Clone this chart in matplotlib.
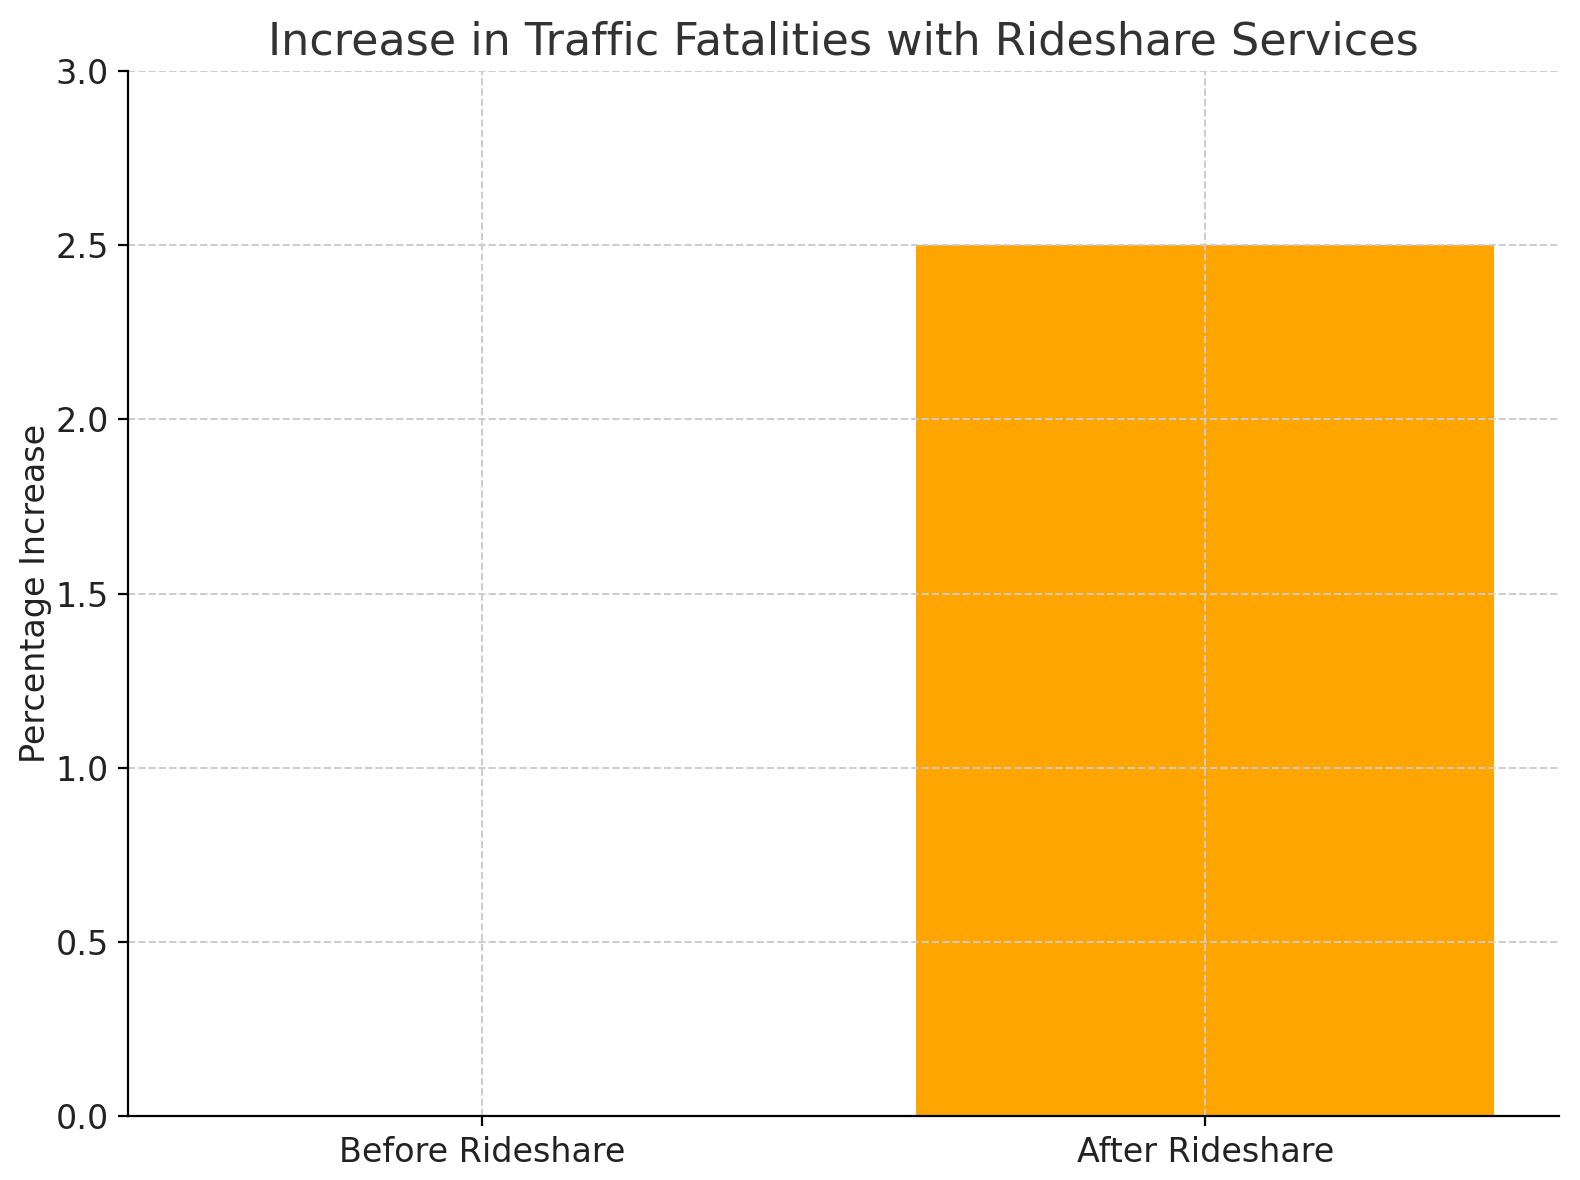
import matplotlib.pyplot as plt

categories = ['Before Rideshare', 'After Rideshare']
increase = [0, 2.5]
colors = ['blue', 'orange']

fig, ax = plt.subplots(figsize=(7.9, 5.9), dpi=200)
ax.bar(categories, increase, color=colors, width=0.8)

ax.set_title('Increase in Traffic Fatalities with Rideshare Services', fontsize=16, color='#333333')
ax.set_ylabel('Percentage Increase', fontsize=12, labelpad=1, color='#222222')
ax.set_ylim(0, 3)
ax.tick_params(labelsize=12, labelcolor='#222222')
ax.grid(True, linestyle='--', color='#cccccc', linewidth=0.7)
ax.set_axisbelow(False)
ax.spines['top'].set_visible(False)
ax.spines['right'].set_visible(False)
for s in ax.spines.values():
    s.set_zorder(5)

fig.subplots_adjust(left=0.081, right=0.987, top=0.940, bottom=0.054)
plt.savefig('out.png')
